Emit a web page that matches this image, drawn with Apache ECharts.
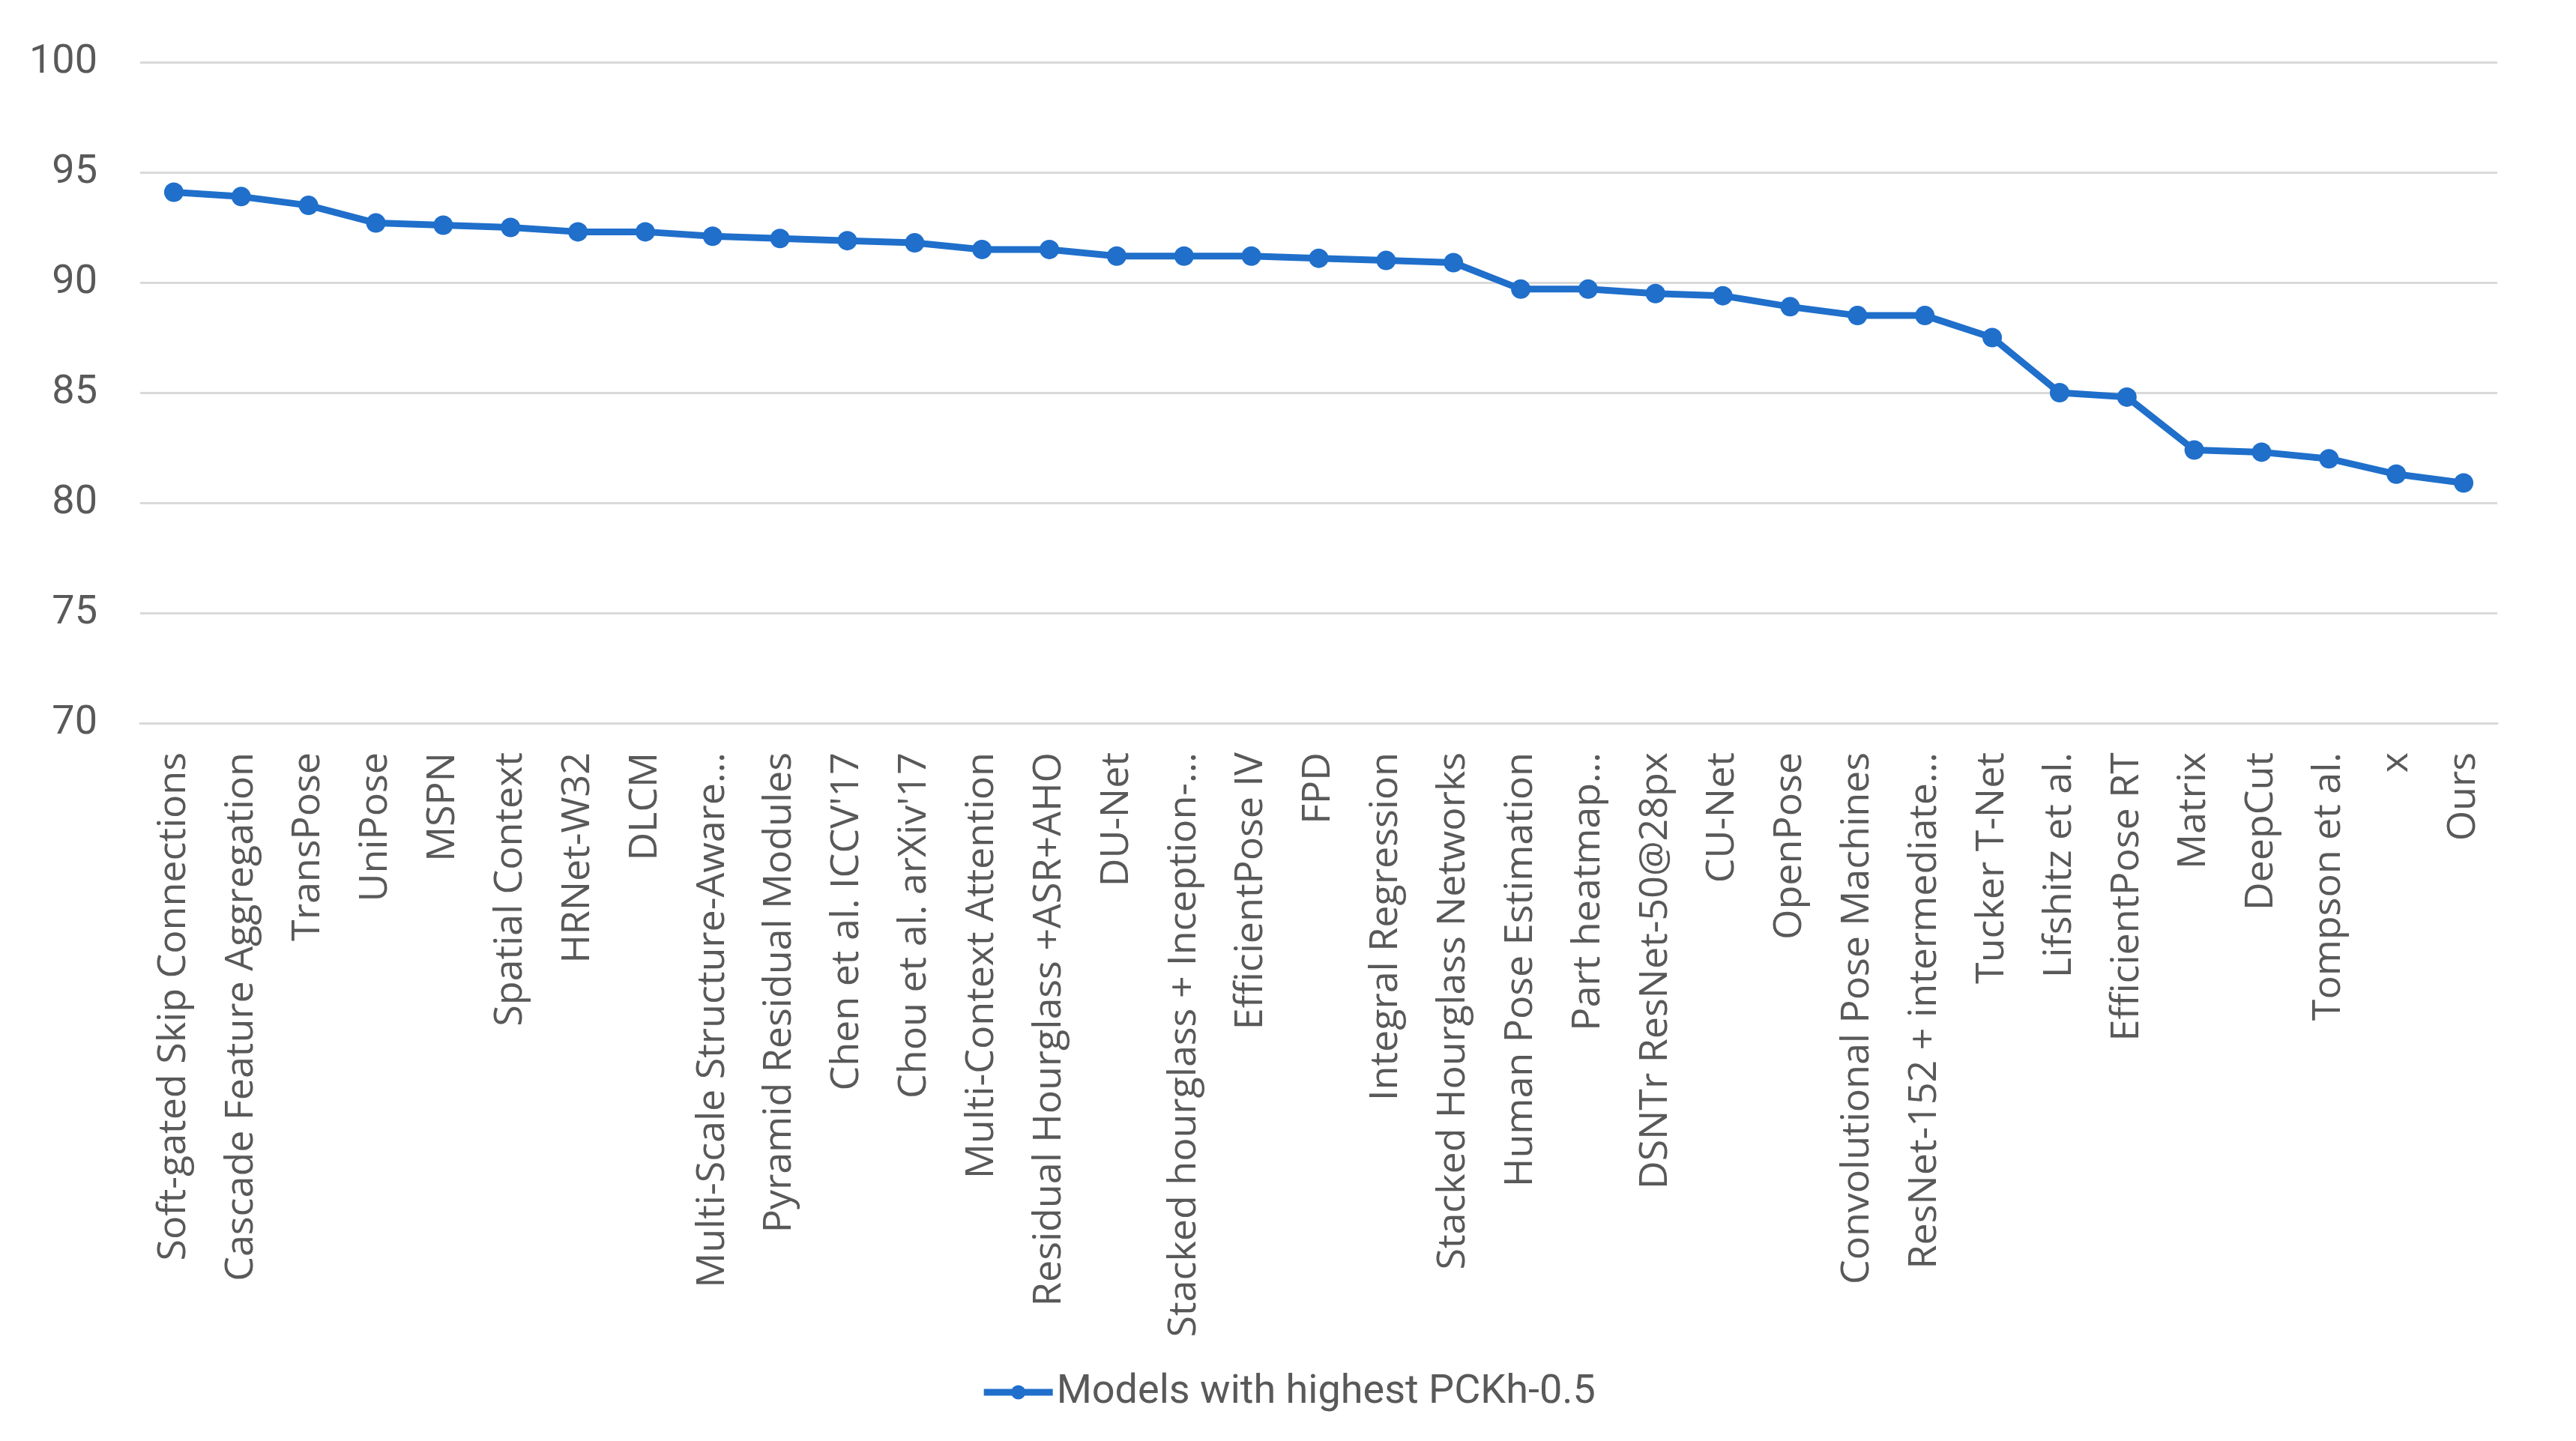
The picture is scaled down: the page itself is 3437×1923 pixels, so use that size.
<!DOCTYPE html>
<html>
<head>
<meta charset="utf-8">
<script src="https://cdn.jsdelivr.net/npm/echarts@6/dist/echarts.min.js"></script>
<style>
html,body{margin:0;padding:0;background:#fff;}
#chart{width:3437px;height:1923px;}
</style>
</head>
<body>
<div id="chart"></div>
<script>
var categories = [
  "Soft-gated Skip Connections", "Cascade Feature Aggregation", "TransPose", "UniPose", "MSPN",
  "Spatial Context", "HRNet-W32", "DLCM", "Multi-Scale Structure-Aware...", "Pyramid Residual Modules",
  "Chen et al. ICCV'17", "Chou et al. arXiv'17", "Multi-Context Attention", "Residual Hourglass +ASR+AHO", "DU-Net",
  "Stacked hourglass + Inception-...", "EfficientPose IV", "FPD", "Integral Regression", "Stacked Hourglass Networks",
  "Human Pose Estimation", "Part heatmap...", "DSNTr ResNet-50@28px", "CU-Net", "OpenPose",
  "Convolutional Pose Machines", "ResNet-152 + intermediate...", "Tucker T-Net", "Lifshitz et al.", "EfficientPose RT",
  "Matrix", "DeepCut", "Tompson et al.", "x", "Ours"
];
var pckhValues = [
  94.1, 93.9, 93.5, 92.7, 92.6,
  92.5, 92.3, 92.3, 92.1, 92.0,
  91.9, 91.8, 91.5, 91.5, 91.2,
  91.2, 91.2, 91.1, 91.0, 90.9,
  89.7, 89.7, 89.5, 89.4, 88.9,
  88.5, 88.5, 87.5, 85.0, 84.8,
  82.4, 82.3, 82.0, 81.3, 80.9
];
var seriesName = "Models with highest PCKh-0.5";
var yTicks = { min: 70, max: 100, interval: 5 };

var chart = echarts.init(document.getElementById('chart'));
chart.setOption({
  animation: false,
  backgroundColor: '#ffffff',
  grid: { left: 187, right: 105, top: 83, bottom: 958, containLabel: false },
  legend: {
    data: [seriesName],
    left: 'center',
    top: 1826,
    itemWidth: 92,
    itemHeight: 24,
    lineStyle: { width: 9, color: '#1f6fcb' },
    itemStyle: { color: '#1f6fcb' },
    textStyle: { fontFamily: 'Roboto', fontSize: 54, color: '#595959' }
  },
  xAxis: {
    type: 'category',
    data: categories,
    boundaryGap: true,
    axisLine: { show: true, lineStyle: { color: '#d9d9d9', width: 3 } },
    axisTick: { show: false },
    axisLabel: {
      interval: 0,
      rotate: 90,
      margin: 39,
      fontFamily: 'Open Sans',
      fontSize: 52,
      color: '#595959'
    }
  },
  yAxis: {
    type: 'value',
    min: yTicks.min,
    max: yTicks.max,
    interval: yTicks.interval,
    axisLine: { show: false },
    axisTick: { show: false },
    axisLabel: { margin: 57, fontFamily: 'Roboto', fontSize: 54, color: '#595959' },
    splitLine: { show: true, lineStyle: { color: '#d9d9d9', width: 3 } }
  },
  series: [{
    name: seriesName,
    type: 'line',
    data: pckhValues,
    symbol: 'circle',
    symbolSize: 26,
    lineStyle: { color: '#1f6fcb', width: 9 },
    itemStyle: { color: '#1f6fcb' }
  }]
});
</script>
</body>
</html>
